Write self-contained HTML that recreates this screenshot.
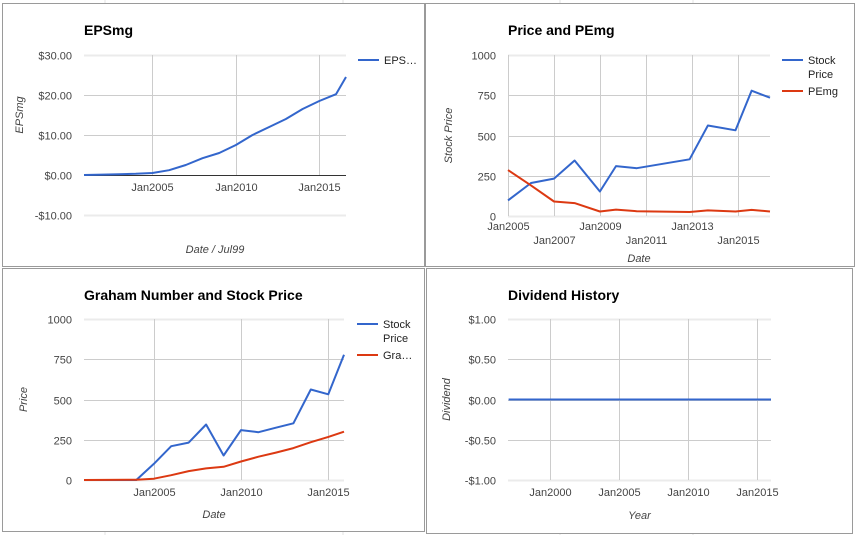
<!DOCTYPE html>
<html><head><meta charset="utf-8"><style>
html,body{margin:0;padding:0;background:#fff;}
svg{display:block;font-family:"Liberation Sans",Arial,sans-serif;}
</style></head><body>
<svg id="s" width="856" height="535" viewBox="0 0 856 535">
<g stroke="#e3e3e3" stroke-width="1">
<line x1="105" y1="0" x2="105" y2="3"/><line x1="343" y1="0" x2="343" y2="3"/><line x1="560" y1="0" x2="560" y2="3"/><line x1="693" y1="0" x2="693" y2="3"/>
<line x1="105" y1="531" x2="105" y2="535"/><line x1="343" y1="531" x2="343" y2="535"/><line x1="560" y1="533" x2="560" y2="535"/><line x1="693" y1="533" x2="693" y2="535"/>
</g>
</svg>
<script>
// ---- Chart 1: EPSmg ----
const epsYears = [2000.9,2002,2003,2004,2005,2006,2007,2008,2009,2010,2011,2012,2013,2014,2015,2016,2016.6];
const epsValues = [0,0.1,0.2,0.3,0.5,1.2,2.5,4.2,5.5,7.5,10,12,14,16.5,18.5,20.2,24.5];
const epsYTicks = [30,20,10,0,-10];
const epsYLabels = ["$30.00","$20.00","$10.00","$0.00","-$10.00"];
const epsXTicks = [2005,2010,2015];
const epsXLabels = ["Jan2005","Jan2010","Jan2015"];
// ---- Chart 2: Price and PEmg ----
const ppYears = [2005,2006,2007,2007.9,2009,2009.7,2010.6,2012.9,2013.7,2014.9,2015.6,2016.4];
const ppPrice = [97,205,232,345,152,310,297,352,562,532,778,735];
const ppPE = [285,190,90,80,28,40,30,25,35,28,38,28];
const ppYTicks = [1000,750,500,250,0];
const ppYLabels = ["1000","750","500","250","0"];
const ppXTicks = [2005,2007,2009,2011,2013,2015];
const ppXLabels = ["Jan2005","Jan2007","Jan2009","Jan2011","Jan2013","Jan2015"];
// ---- Chart 3: Graham Number ----
const gnYears = [2001,2004,2005,2006,2007,2008,2009,2010,2011,2012,2013,2014,2015,2015.9];
const gnPrice = [0,0,100,210,232,345,152,310,297,325,352,562,532,778];
const gnGraham = [0,2,8,30,55,72,82,115,145,170,198,235,268,300];
const gnYTicks = [1000,750,500,250,0];
const gnYLabels = ["1000","750","500","250","0"];
const gnXTicks = [2005,2010,2015];
const gnXLabels = ["Jan2005","Jan2010","Jan2015"];
// ---- Chart 4: Dividend ----
const dvYears = [1997,2016];
const dvValues = [0,0];
const dvYTicks = [1,0.5,0,-0.5,-1];
const dvYLabels = ["$1.00","$0.50","$0.00","-$0.50","-$1.00"];
const dvXTicks = [2000,2005,2010,2015];
const dvXLabels = ["Jan2000","Jan2005","Jan2010","Jan2015"];

const NS="http://www.w3.org/2000/svg";
const svg=document.getElementById('s');
function mk(tag,attrs,parent,text){const e=document.createElementNS(NS,tag);for(const k in attrs)e.setAttribute(k,attrs[k]);if(text!==undefined)e.textContent=text;(parent||svg).appendChild(e);return e;}

function chart(c){
  const g=mk('g',{});
  
  
  const b=mk('rect',{x:c.box[0]+0.5,y:c.box[1]+0.5,width:c.box[2],height:c.box[3],fill:'#fff',stroke:'#9a9a9a','stroke-width':1},g);
  
  
  const t=mk('text',{x:c.titleX,y:c.titleY,'font-size':14,'font-weight':'bold',fill:'#000'},g,c.title);
  
  
  const xs=v=>c.px0+(v-c.x0)/(c.x1-c.x0)*(c.px1-c.px0);
  const ys=v=>c.py0+(v-c.y0)/(c.y1-c.y0)*(c.py1-c.py0);
  c.yTicks.forEach((v,i)=>{
    const y=Math.round(ys(v))+0.5;
    const l=mk('line',{x1:c.px0,x2:c.px1,y1:y,y2:y,stroke:(i===0||i===c.yTicks.length-1)?'#ebebeb':'#cccccc','stroke-width':(i===0||i===c.yTicks.length-1)?2:1},g);
    
    
    const tx=mk('text',{x:c.px0-12,y:y+4,'font-size':11,fill:'#444','text-anchor':'end'},g,c.yLabels[i]);
    
    
  });
  c.xTicks.forEach((v,i)=>{
    const x=Math.round(xs(v))+0.5;
    const l=mk('line',{x1:x,x2:x,y1:c.py1,y2:c.py0,stroke:'#cccccc','stroke-width':1},g);
    
    
    const ty=c.stagger? (i%2===0?c.py0+14:c.py0+28):c.py0+16;
    const tx=mk('text',{x:x,y:ty,'font-size':11,fill:'#444','text-anchor':'middle'},g,c.xLabels[i]);
    
    
  });
  if(c.zeroLine){const y=Math.round(ys(0))+0.5;const z=mk('line',{x1:c.px0,x2:c.px1,y1:y,y2:y,stroke:'#333','stroke-width':1},g);
    
    }
  const yt=mk('text',{transform:`translate(${c.yTitleX},${(c.py0+c.py1)/2}) rotate(-90)`,'font-size':11,'font-style':'italic',fill:'#444','text-anchor':'middle'},g,c.yTitle);
  
  
  const xt=mk('text',{x:(c.px0+c.px1)/2,y:c.xTitleY,'font-size':11,'font-style':'italic',fill:'#444','text-anchor':'middle'},g,c.xTitle);
  
  
  c.series.forEach((s,si)=>{
    const pts=s.xs.map((v,i)=>xs(v).toFixed(1)+','+ys(s.ys[i]).toFixed(1)).join(' ');
    const p=mk('polyline',{points:pts,fill:'none',stroke:s.color,'stroke-width':2,'stroke-linejoin':'round'},g);
    
    
    if(s.legend){
      const lg=mk('g',{},g);
      
      
      const ly=s.legendY;
      mk('line',{x1:c.legX,x2:c.legX+21,y1:ly,y2:ly,stroke:s.color,'stroke-width':2},lg);
      s.legend.forEach((ln,k)=>mk('text',{x:c.legX+26,y:ly+4+k*14,'font-size':11,fill:'#222'},lg,ln));
    }
  });
}

chart({name:'epsmg-chart',box:[2,3,422,263],title:'EPSmg',titleX:84,titleY:35,
  px0:84,px1:346,x0:2000.9,x1:2016.6,py0:175,py1:55,y0:0,y1:30,
  yTicks:epsYTicks,yLabels:epsYLabels,xTicks:epsXTicks,xLabels:epsXLabels,zeroLine:true,
  yTitle:'EPSmg',yTitleX:23,xTitle:'Date / Jul99',xTitleY:253,legX:358,
  series:[{id:'eps',xs:epsYears,ys:epsValues,color:'#3366cc',legend:['EPS…'],legendY:60}]});
// fix py mapping: pyo corresponds to y0 value 0 at 175
chart({name:'price-pemg-chart',box:[425,3,429,263],title:'Price and PEmg',titleX:508,titleY:35,
  px0:508,px1:770,x0:2005,x1:2016.4,py0:216,py1:55,y0:0,y1:1000,
  yTicks:ppYTicks,yLabels:ppYLabels,xTicks:ppXTicks,xLabels:ppXLabels,stagger:true,
  yTitle:'Stock Price',yTitleX:452,xTitle:'Date',xTitleY:262,legX:782,
  series:[{id:'stock-price',xs:ppYears,ys:ppPrice,color:'#3366cc',legend:['Stock','Price'],legendY:60},
          {id:'pemg',xs:ppYears,ys:ppPE,color:'#dc3912',legend:['PEmg'],legendY:91}]});
chart({name:'graham-chart',box:[2,268,422,263],title:'Graham Number and Stock Price',titleX:84,titleY:300,
  px0:84,px1:344,x0:2001,x1:2015.9,py0:480,py1:319,y0:0,y1:1000,
  yTicks:gnYTicks,yLabels:gnYLabels,xTicks:gnXTicks,xLabels:gnXLabels,
  yTitle:'Price',yTitleX:27,xTitle:'Date',xTitleY:518,legX:357,
  series:[{id:'stock-price',xs:gnYears,ys:gnPrice,color:'#3366cc',legend:['Stock','Price'],legendY:324},
          {id:'graham-number',xs:gnYears,ys:gnGraham,color:'#dc3912',legend:['Gra…'],legendY:355}]});
chart({name:'dividend-chart',box:[426,268,426,265],title:'Dividend History',titleX:508,titleY:300,
  px0:508,px1:771,x0:1996.96,x1:2016,py0:480,py1:319,y0:-1,y1:1,
  yTicks:dvYTicks,yLabels:dvYLabels,xTicks:dvXTicks,xLabels:dvXLabels,
  yTitle:'Dividend',yTitleX:450,xTitle:'Year',xTitleY:519,legX:0,
  series:[{id:'dividend',xs:dvYears,ys:dvValues,color:'#3366cc',legend:null}]});
</script>
</body></html>
